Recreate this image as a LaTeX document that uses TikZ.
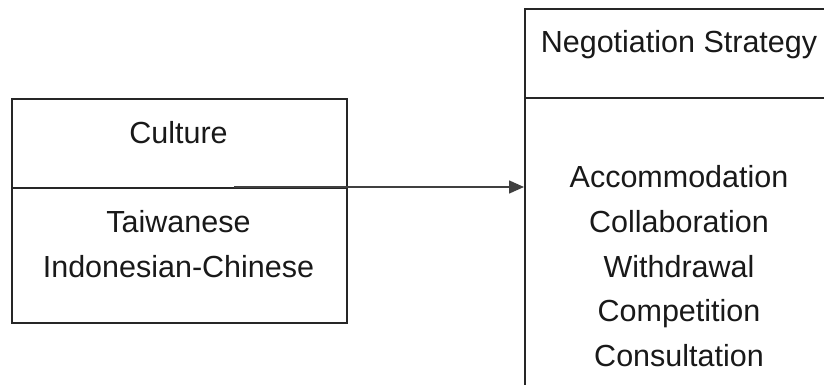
\documentclass[tikz,border=0pt]{standalone}
\usepackage{fontspec}
\setmainfont{Liberation Sans}
\usetikzlibrary{arrows.meta}
\begin{document}
\begin{tikzpicture}[x=1pt,y=-1pt,
  boxline/.style={draw=black!85,line width=1.6pt},
  lbl/.style={font=\fontsize{30.5}{36}\selectfont,text=black!90,inner sep=0pt,anchor=base},
  conn/.style={draw=black!75,line width=1.6pt,-{Triangle[length=15pt,width=13pt]}}]
\useasboundingbox (0,0) rectangle (824,385);
\clip (0,0) rectangle (824,385);
% left box
\node[boxline,rectangle,minimum width=335pt,minimum height=224pt,inner sep=0pt,anchor=north west] (cult) at (11,98) {};
\draw[boxline] (11,188) -- (346,188);
\node[lbl] (culture) at (178.5,143) {Culture};
\node[lbl] (tw) at (178.5,232) {Taiwanese};
\node[lbl] (ic) at (178.5,277) {Indonesian-Chinese};
% right box
\node[boxline,rectangle,minimum width=310pt,minimum height=400pt,inner sep=0pt,anchor=north west] (neg) at (524,8) {};
\draw[boxline] (524,98) -- (834,98);
\node[lbl] (ns) at (679,53) {Negotiation Strategy};
\node[lbl] (a1) at (679,187) {Accommodation};
\node[lbl] (a2) at (679,232) {Collaboration};
\node[lbl] (a3) at (679,277) {Withdrawal};
\node[lbl] (a4) at (679,321) {Competition};
\node[lbl] (a5) at (679,366) {Consultation};
% arrow
\coordinate (s) at (234,187);
\draw[conn] (s) -- (neg.west |- s);
\end{tikzpicture}
\end{document}
